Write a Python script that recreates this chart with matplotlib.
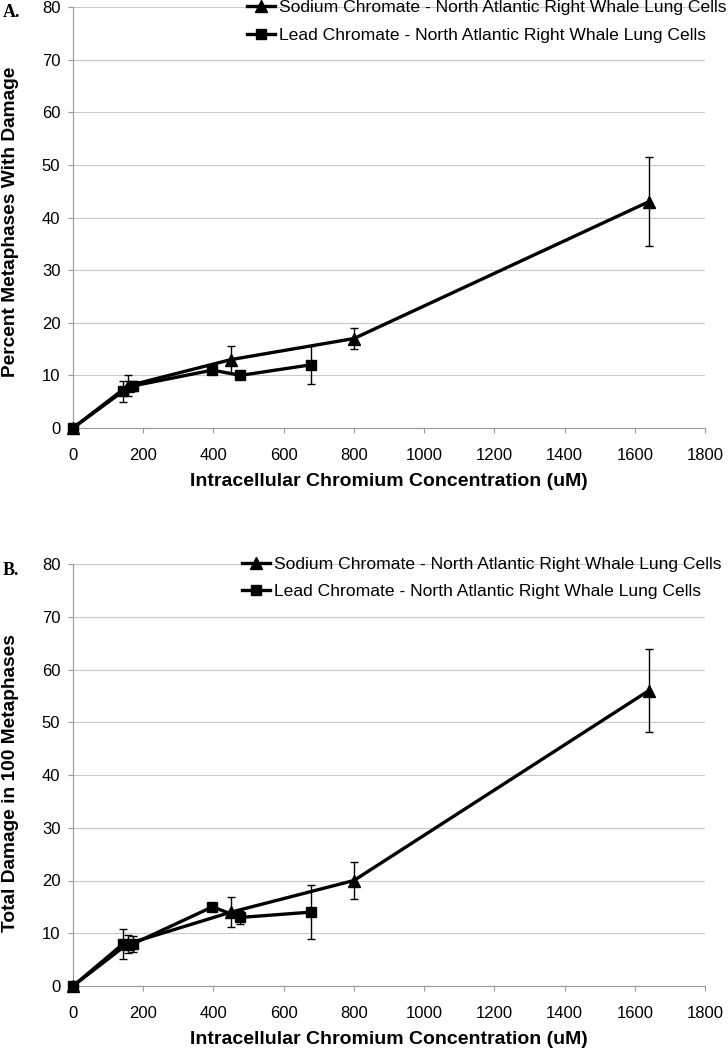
import matplotlib
matplotlib.use("Agg")
import matplotlib.pyplot as plt

plt.rcParams['font.family'] = ['Liberation Sans', 'DejaVu Sans']

# Panel A data: percent metaphases with damage
na_x_a = [0, 156, 450, 800, 1640]
na_y_a = [0, 8, 13, 17, 43]
na_e_a = [0, 2, 2.6, 2, 8.5]
pb_x_a = [0, 143, 171, 397, 477, 677]
pb_y_a = [0, 7, 8, 11, 10, 12]
pb_e_a = [0, 2, 1, 0.6, 0.6, 3.6]

# Panel B data: total damage in 100 metaphases
na_x_b = [0, 156, 450, 800, 1640]
na_y_b = [0, 8, 14, 20, 56]
na_e_b = [0, 1.7, 2.8, 3.6, 7.8]
pb_x_b = [0, 143, 171, 397, 477, 677]
pb_y_b = [0, 8, 8, 15, 13, 14]
pb_e_b = [0, 2.8, 1.5, 0.5, 1.2, 5.1]

x_ticks = [0, 200, 400, 600, 800, 1000, 1200, 1400, 1600, 1800]
y_ticks = [0, 10, 20, 30, 40, 50, 60, 70, 80]

label_na = "Sodium Chromate - North Atlantic Right Whale Lung Cells"
label_pb = "Lead Chromate - North Atlantic Right Whale Lung Cells"
xlabel = "Intracellular Chromium Concentration (uM)"
ylabel_a = "Percent Metaphases With Damage"
ylabel_b = "Total Damage in 100 Metaphases"

W, H = 728, 1048
fig = plt.figure(figsize=(W / 100, H / 100), dpi=100)
L, R = 73 / W, 705 / W
ax_a = fig.add_axes([L, 1 - 428 / H, R - L, 421 / H])
ax_b = fig.add_axes([L, 1 - 986 / H, R - L, 422 / H])


def draw(ax, nx, ny, ne, px, py, pe, ylabel, ylab_y, leg_x, leg_y, leg_sp):
    ax.errorbar(nx, ny, yerr=ne, color='black', lw=2.4, marker='^', ms=8,
                ecolor='black', elinewidth=1, capsize=3, capthick=1,
                label=label_na, zorder=3, clip_on=False)
    ax.errorbar(px, py, yerr=pe, color='black', lw=2.4, marker='s', ms=7.5,
                ecolor='black', elinewidth=1, capsize=3, capthick=1,
                label=label_pb, zorder=3, clip_on=False)
    ax.set_xlim(0, 1800)
    ax.set_ylim(0, 80)
    ax.set_xticks(x_ticks)
    ax.set_yticks(y_ticks)
    ax.tick_params(axis='both', labelsize=12, length=3.6, width=0.8,
                   color='#999999')
    ax.tick_params(axis='x', pad=10.5)
    ax.tick_params(axis='y', pad=5.5)
    ax.yaxis.grid(True, color='#c8c8c8', lw=0.8)
    ax.set_axisbelow(True)
    for s in ['top', 'right']:
        ax.spines[s].set_visible(False)
    for s in ['left', 'bottom']:
        ax.spines[s].set_color('#999999')
        ax.spines[s].set_linewidth(0.8)
    ax.set_xlabel(xlabel, fontsize=14, fontweight='bold')
    ax.xaxis.set_label_coords(0.5, -0.106)
    ax.set_ylabel(ylabel, fontsize=13.8, fontweight='bold')
    ax.yaxis.set_label_coords(-0.086, ylab_y)
    handles, labels = ax.get_legend_handles_labels()
    handles = [h[0] for h in handles]
    ax.legend(handles, labels, loc='upper left',
              bbox_to_anchor=(leg_x / W, 1 - leg_y / H),
              bbox_transform=fig.transFigure,
              frameon=False, fontsize=12.6, handlelength=1.6,
              handletextpad=0.23, labelspacing=leg_sp, borderpad=0,
              borderaxespad=0)


draw(ax_a, na_x_a, na_y_a, na_e_a, pb_x_a, pb_y_a, pb_e_a, ylabel_a,
     0.49, 246.7, 0, 0.72)
draw(ax_b, na_x_b, na_y_b, na_e_b, pb_x_b, pb_y_b, pb_e_b, ylabel_b,
     0.48, 241.7, 557, 0.68)

fig.text(3 / W, 1 - 17 / H, "A.", fontsize=13, fontweight='bold',
         family=['Liberation Serif', 'DejaVu Serif'])
fig.text(3 / W, 1 - 575 / H, "B.", fontsize=13, fontweight='bold',
         family=['Liberation Serif', 'DejaVu Serif'])

fig.savefig("out.png", dpi=100)
